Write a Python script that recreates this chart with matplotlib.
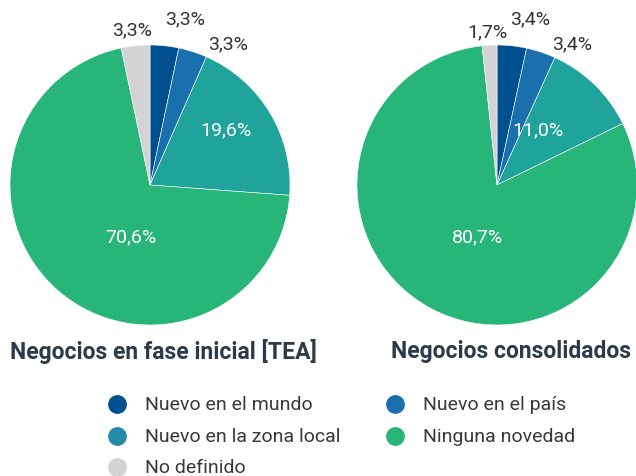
import matplotlib
matplotlib.use('Agg')
import matplotlib.pyplot as plt
from matplotlib.lines import Line2D

plt.rcParams['font.family'] = ['Roboto', 'DejaVu Sans']

categorias = ['Nuevo en el mundo', 'Nuevo en el país', 'Nuevo en la zona local',
              'Ninguna novedad', 'No definido']
colores = ['#004f8f', '#1a70ad', '#1fa39b', '#27b57a', '#d3d3d5']
color_leyenda_local = '#2589a8'

tea = [3.3, 3.3, 19.6, 70.6, 3.3]
consolidados = [3.4, 3.4, 11.0, 80.7, 1.7]

titulos = ['Negocios en fase inicial [TEA]', 'Negocios consolidados']

# posiciones de las etiquetas (en radios del pastel)
pos_tea = [(0.25, 1.19), (0.56, 1.01), (0.54, 0.40), (-0.14, -0.37), (-0.13, 1.11)]
pos_cons = [(0.24, 1.19), (0.54, 1.01), (0.29, 0.40), (-0.14, -0.37), (-0.07, 1.10)]


def etiqueta(v):
    return f'{v:.1f}%'.replace('.', ',')


fig = plt.figure(figsize=(6.36, 4.77), dpi=100)
W, H = 636, 477

ejes = [
    fig.add_axes([10 / W, 151 / H, 280 / W, 280 / H]),
    fig.add_axes([357 / W, 151 / H, 280 / W, 280 / H]),
]

for ax, datos, pos in zip(ejes, [tea, consolidados], [pos_tea, pos_cons]):
    wedges, _ = ax.pie(datos, colors=colores, startangle=90, counterclock=False,
                       radius=1, wedgeprops=dict(edgecolor='white', linewidth=0.4))
    for w in wedges:
        w.set_clip_on(False)
    ax.set_xlim(-1, 1)
    ax.set_ylim(-1, 1)
    ax.set_aspect('equal')
    ax.axis('off')
    for i, (v, (x, y)) in enumerate(zip(datos, pos)):
        dentro = i in (2, 3)
        ax.text(x, y, etiqueta(v), ha='center', va='center', fontsize=14,
                color='white' if dentro else '#333333', clip_on=False)

fig.text(163 / W, 1 - 352 / H, titulos[0], ha='center', va='center',
         fontsize=16.5, fontweight='bold', color='#2d3a4a')
fig.text(511 / W, 1 - 352 / H, titulos[1], ha='center', va='center',
         fontsize=16.5, fontweight='bold', color='#2d3a4a')

# leyenda en dos columnas
orden = [0, 2, 4, 1, 3]
col_x = [117, 395]
fila_y = [405, 437, 468]
for k, i in enumerate(orden):
    col = 0 if k < 3 else 1
    fila = k if k < 3 else k - 3
    c = color_leyenda_local if i == 2 else colores[i]
    x = col_x[col] / W
    y = 1 - fila_y[fila] / H
    fig.add_artist(Line2D([x], [y], marker='o', linestyle='', markersize=12.5,
                          markerfacecolor=c, markeredgecolor=c,
                          transform=fig.transFigure))
    fig.text(x + 28 / W, y, categorias[i], ha='left', va='center',
             fontsize=14, color='#383838')

fig.savefig('out.png', dpi=100)
